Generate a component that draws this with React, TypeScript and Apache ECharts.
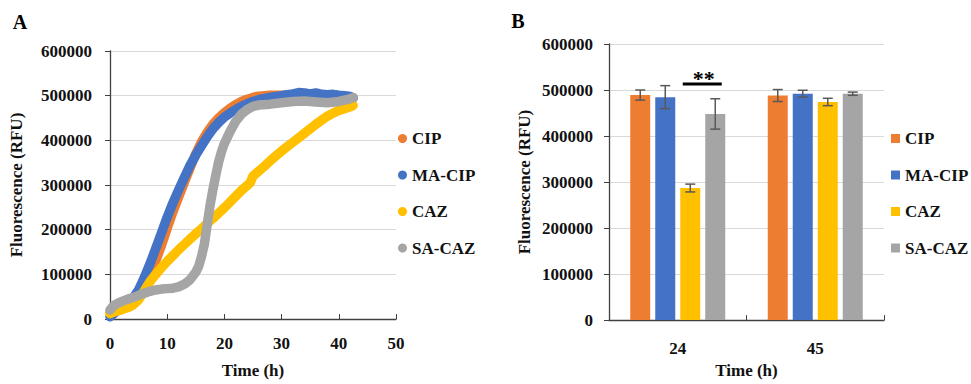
import React, { useEffect, useRef } from "react";
import * as echarts from "echarts";

const FONT = "'Liberation Serif', 'Times New Roman', serif";

const seriesNames = ["CIP", "MA-CIP", "CAZ", "SA-CAZ"];
const seriesColors = ["#ED7D31", "#4472C4", "#FFC000", "#A5A5A5"];

// Panel A: fluorescence over time, [time (h), RFU]
const cipCurve: [number, number][] = [
  [0, 15000], [1, 20000], [2, 26000], [3, 33000], [4, 42000], [5, 55000], [6, 75000], [7, 100000],
  [8, 130000], [9, 165000], [10, 203000], [11, 240000], [12, 273000], [13, 306000], [14, 338000],
  [15, 370000], [16, 397000], [17, 418000], [18, 436000], [19, 450000], [20, 462000], [21, 472000],
  [22, 480000], [23, 487000], [24, 492000], [25, 496000], [26, 499000], [28, 501000], [30, 501000],
  [33, 503000], [36, 501000], [39, 500000], [42, 497000], [42.5, 495000],
];
const maCipCurve: [number, number][] = [
  [0, 5000], [0.5, 10000], [1, 16000], [2, 25000], [3, 35000], [4, 46000], [5, 65000], [6, 93000],
  [7, 124000], [8, 158000], [9, 193000], [10, 228000], [11, 260000], [12, 289000], [13, 317000],
  [14, 344000], [15, 367000], [16, 388000], [17, 408000], [18, 426000], [19, 440000], [20, 452000],
  [21, 461000], [22, 469000], [23, 476000], [24, 482000], [25, 487000], [26, 491000], [27, 494000],
  [28, 496000], [29, 498000], [30, 500000], [31, 502000], [32, 504000], [33, 507000], [34, 506000],
  [35, 504000], [36, 506000], [37, 503000], [38, 502000], [39, 503000], [40, 501000], [41, 500000],
  [42, 498000], [42.5, 495000],
];
const cazCurve: [number, number][] = [
  [0, 12000], [1, 17000], [2, 21000], [3, 25000], [4, 31000], [5, 43000], [6, 63000], [7, 84000],
  [8, 100000], [9, 115000], [10, 129000], [11, 142000], [12, 155000], [13, 167000], [14, 179000],
  [15, 191000], [16, 202000], [17, 214000], [18, 225000], [19, 237000], [20, 249000], [21, 262000],
  [22, 275000], [23, 288000], [24, 299000], [24.5, 305000], [25, 320000], [26, 331000], [27, 342000],
  [28, 354000], [29, 365000], [30, 376000], [31, 386000], [32, 396000], [33, 406000], [34, 416000],
  [35, 426000], [36, 436000], [37, 445000], [38, 454000], [39, 461000], [40, 467000], [41, 471000],
  [42, 475000], [42.5, 478000],
];
const saCazCurve: [number, number][] = [
  [0, 20000], [0.5, 28000], [1, 33000], [2, 39000], [3, 44000], [4, 48000], [5, 53000], [6, 58000],
  [7, 62000], [8, 65000], [9, 67000], [10, 68000], [11, 69000], [12, 72000], [13, 78000], [14, 88000],
  [15, 105000], [15.5, 118000], [16, 140000], [16.5, 168000], [17, 212000], [17.5, 255000],
  [18, 290000], [18.5, 322000], [19, 352000], [19.5, 375000], [20, 393000], [21, 420000],
  [22, 443000], [23, 459000], [24, 469000], [25, 476000], [26, 479000], [28, 481000], [30, 484000],
  [32, 487000], [34, 488000], [36, 486000], [38, 484000], [40, 487000], [41, 490000], [42, 493000],
  [42.5, 496000],
];
const curves = [cipCurve, maCipCurve, cazCurve, saCazCurve];

// Panel B: bars at time points
const barCategories = ["24", "45"];
const cipMeans = [489000, 488000];
const cipErr = [11000, 13000];
const maCipMeans = [484500, 492000];
const maCipErr = [25000, 7500];
const cazMeans = [287000, 474000];
const cazErr = [8500, 8000];
const saCazMeans = [448000, 492000];
const saCazErr = [33000, 3500];
const barMeans = [cipMeans, maCipMeans, cazMeans, saCazMeans];
const barErrs = [cipErr, maCipErr, cazErr, saCazErr];

// significance marker between CAZ and SA-CAZ at 24 h
const sigLevel = 513000;
const sigText = "**";

const yTicks = { min: 0, max: 600000, interval: 100000 };

const AXIS_COLOR = "#404040";
const GRID_COLOR = "#D9D9D9";
const TEXT_COLOR = "#111111";

export default function App() {
  const ref = useRef<HTMLDivElement>(null);

  useEffect(() => {
    if (!ref.current) return;
    const chart = echarts.init(ref.current, undefined, { renderer: "svg" });

    const labelStyle = {
      fontFamily: FONT,
      fontWeight: "bold" as const,
      fontSize: 17,
      color: TEXT_COLOR,
    };

    const barWidth = 20;
    const barOffsets = [-37.5, -12.5, 12.5, 37.5];

    const lineSeries = curves.map((c, i) => ({
      name: seriesNames[i],
      type: "line",
      xAxisIndex: 0,
      yAxisIndex: 0,
      data: c,
      showSymbol: false,
      symbol: "circle",
      color: seriesColors[i],
      lineStyle: { width: 9.5, color: seriesColors[i], cap: "round", join: "round" },
      z: 2 + i,
    }));

    const barSeries = barMeans.map((m, i) => ({
      name: seriesNames[i],
      type: "bar",
      xAxisIndex: 1,
      yAxisIndex: 1,
      data: m,
      barWidth,
      barGap: "25%",
      color: seriesColors[i],
      itemStyle: { color: seriesColors[i] },
    }));

    const errSeries = barMeans.map((m, i) => ({
      name: "err-" + seriesNames[i],
      type: "custom",
      xAxisIndex: 1,
      yAxisIndex: 1,
      z: 5,
      encode: { x: 0, y: [1, 2] },
      data: m.map((v, k) => [k, v - barErrs[i][k], v + barErrs[i][k]]),
      renderItem: (params: any, api: any) => {
        const k = api.value(0);
        const top = api.coord([k, api.value(2)]);
        const bot = api.coord([k, api.value(1)]);
        const cx = top[0] + barOffsets[i];
        const hw = 5;
        const st = { stroke: "#595959", lineWidth: 1.5 };
        return {
          type: "group",
          children: [
            { type: "line", shape: { x1: cx, y1: top[1], x2: cx, y2: bot[1] }, style: st },
            { type: "line", shape: { x1: cx - hw, y1: top[1], x2: cx + hw, y2: top[1] }, style: st },
            { type: "line", shape: { x1: cx - hw, y1: bot[1], x2: cx + hw, y2: bot[1] }, style: st },
          ],
        };
      },
    }));

    const sigSeries = {
      name: "significance",
      type: "custom",
      xAxisIndex: 1,
      yAxisIndex: 1,
      z: 6,
      encode: { x: 0, y: 1 },
      data: [[0, sigLevel]],
      renderItem: (params: any, api: any) => {
        const p = api.coord([api.value(0), api.value(1)]);
        return {
          type: "group",
          children: [
            {
              type: "line",
              shape: { x1: p[0] + 5, y1: p[1], x2: p[0] + 44, y2: p[1] },
              style: { stroke: "#000", lineWidth: 3 },
            },
            {
              type: "text",
              x: p[0] + 26,
              y: p[1] - 6,
              style: {
                text: sigText,
                fontFamily: FONT,
                fontWeight: "bold",
                fontSize: 22,
                fill: "#000",
                align: "center",
                verticalAlign: "middle",
              },
            },
          ],
        };
      },
    };

    const yAxisCommon = {
      type: "value",
      ...yTicks,
      axisLine: { show: true, lineStyle: { color: AXIS_COLOR, width: 1.3 } },
      axisTick: { show: true, length: 5, lineStyle: { color: AXIS_COLOR } },
      splitLine: { show: true, lineStyle: { color: GRID_COLOR, width: 1 } },
      nameLocation: "middle",
      nameTextStyle: labelStyle,
      name: "Fluorescence (RFU)",
    };

    chart.setOption({
      animation: false,
      textStyle: { fontFamily: FONT },
      grid: [
        { left: 110, top: 51, width: 286, height: 275 },
        { left: 609, top: 44, width: 275, height: 291 },
      ],
      xAxis: [
        {
          type: "value",
          gridIndex: 0,
          min: 0,
          max: 50,
          interval: 10,
          axisLine: { show: true, lineStyle: { color: AXIS_COLOR, width: 1.3 } },
          axisTick: { show: true, inside: true, length: 5, lineStyle: { color: AXIS_COLOR } },
          splitLine: { show: false },
          axisLabel: { ...labelStyle, margin: 16 },
          name: "Time (h)",
          nameLocation: "middle",
          nameGap: 43,
          nameTextStyle: labelStyle,
        },
        {
          type: "category",
          gridIndex: 1,
          data: barCategories,
          axisLine: { show: true, lineStyle: { color: AXIS_COLOR, width: 1.3 } },
          axisTick: { show: true, inside: true, length: 5, lineStyle: { color: AXIS_COLOR } },
          axisLabel: { ...labelStyle, margin: 20 },
          name: "Time (h)",
          nameLocation: "middle",
          nameGap: 29,
          nameTextStyle: labelStyle,
        },
      ],
      yAxis: [
        {
          ...yAxisCommon,
          gridIndex: 0,
          nameGap: 85,
          axisLabel: { ...labelStyle, margin: 18, formatter: (v: number) => String(v) },
        },
        {
          ...yAxisCommon,
          gridIndex: 1,
          nameGap: 76,
          axisLabel: { ...labelStyle, margin: 16, formatter: (v: number) => String(v) },
        },
      ],
      legend: [
        {
          data: seriesNames,
          orient: "vertical",
          left: 393,
          top: 125,
          itemGap: 19.5,
          itemWidth: 9,
          itemHeight: 9,
          icon: "circle",
          textStyle: labelStyle,
          selectedMode: false,
        },
        {
          data: seriesNames,
          orient: "vertical",
          left: 886,
          top: 125,
          itemGap: 19.5,
          itemWidth: 9,
          itemHeight: 9,
          icon: "rect",
          textStyle: labelStyle,
          selectedMode: false,
        },
      ],
      graphic: [
        {
          type: "text",
          x: 20,
          y: 21.5,
          style: {
            text: "A",
            fontFamily: FONT,
            fontWeight: "bold",
            fontSize: 20,
            fill: "#000",
            align: "center",
            verticalAlign: "middle",
          },
        },
        {
          type: "text",
          x: 518,
          y: 21,
          style: {
            text: "B",
            fontFamily: FONT,
            fontWeight: "bold",
            fontSize: 20,
            fill: "#000",
            align: "center",
            verticalAlign: "middle",
          },
        },
      ],
      series: [...lineSeries, ...barSeries, ...errSeries, sigSeries],
    });

    return () => chart.dispose();
  }, []);

  return (
    <div
      ref={ref}
      style={{ position: "absolute", left: 0, top: 0, width: 971, height: 384, background: "#fff" }}
    />
  );
}
